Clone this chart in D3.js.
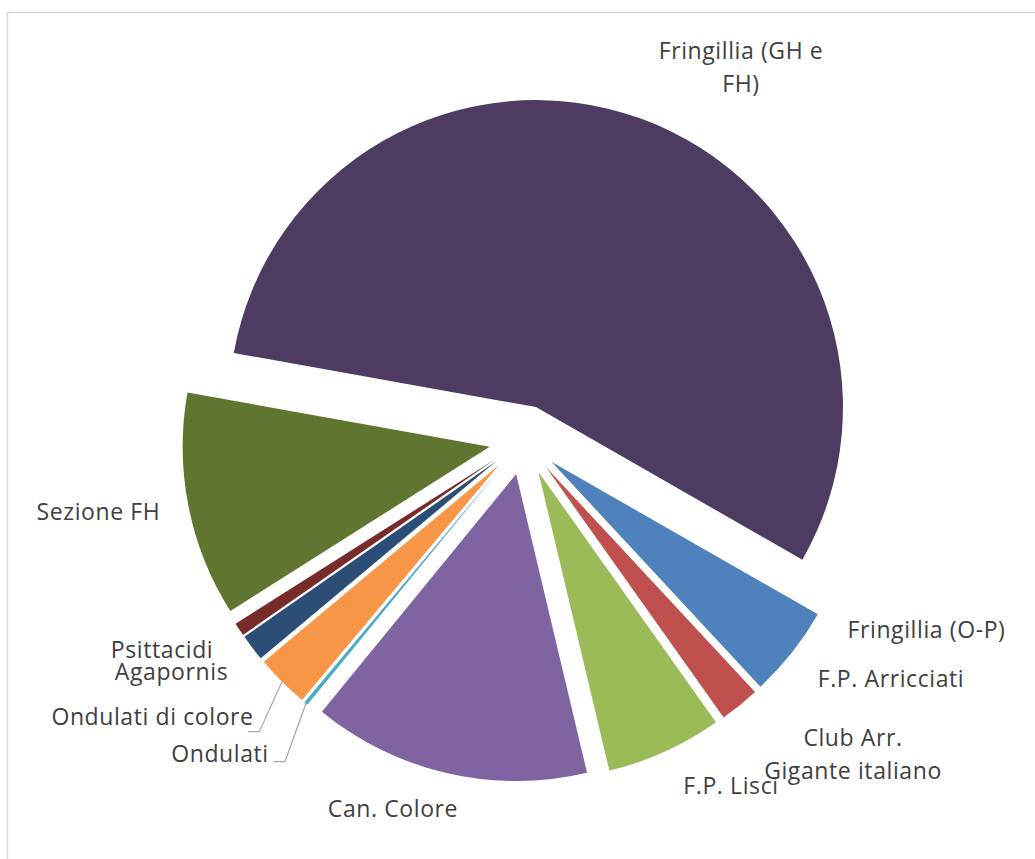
<!DOCTYPE html>
<html>
<head>
<meta charset="utf-8">
<script src="https://cdn.jsdelivr.net/npm/d3@7"></script>
<style>
  html, body { margin: 0; padding: 0; background: #fff; }
  svg { display: block; }
  .lbl { font-family: 'Open Sans', sans-serif; font-size: 23px; fill: #404040; letter-spacing: 0.6px; }
</style>
</head>
<body>
<script>
// categories in drawing order (clockwise from first slice angle)
const categories = [
  'F.P. Arricciati',
  'Club Arr. Gigante italiano',
  'F.P. Lisci',
  'Can. Colore',
  'Ondulati',
  'Ondulati di colore',
  'Agapornis',
  'Psittacidi',
  'Sezione FH',
  'Fringillia (GH e FH)',
  'Fringillia (O-P)',
]
const values = [4.8, 2.1, 6.1, 14.6, 0.2, 2.8, 1.4, 0.7, 11.8, 55.4, 0]
const colors = ['#4f81bd', '#c0504d', '#9bbb59', '#8064a2', '#4bacc6', '#f79646', '#2c4d75', '#772c2a', '#5f7530', '#4d3b62', '#276a7c']

;(function () {
  const width = 1035
  const height = 859
  const cx = 524
  const cy = 440
  const radius = 307
  const explode = 35
  const firstAngle = 119.8

  // label placement: [centre x, baseline of first line]
  const labelPos = {
    'F.P. Arricciati': [891, 687],
    'Club Arr. Gigante italiano': [853, 745.5],
    'F.P. Lisci': [731, 794],
    'Can. Colore': [393, 817],
    'Ondulati': [220, 761.5],
    'Ondulati di colore': [152.5, 725],
    'Agapornis': [171.5, 680],
    'Psittacidi': [162, 657.5],
    'Sezione FH': [98.5, 520],
    'Fringillia (GH e FH)': [741, 59.3],
    'Fringillia (O-P)': [926.5, 637.5],
  }
  const wrapped = {
    'Club Arr. Gigante italiano': ['Club Arr.', 'Gigante italiano'],
    'Fringillia (GH e FH)': ['Fringillia (GH e', 'FH)'],
  }
  // leader lines: elbow and end point
  const leaders = {
    'Ondulati': [[285, 761.7], [273.3, 761.7]],
    'Ondulati di colore': [[259.3, 731.7], [248.3, 731.7]],
  }

  const data = categories.map((name, i) => ({ name, value: values[i], color: colors[i] }))
  const rad = (deg) => (deg * Math.PI) / 180

  const pie = d3
    .pie()
    .sort(null)
    .value((d) => d.value)
    .startAngle(rad(firstAngle))
    .endAngle(rad(firstAngle) + 2 * Math.PI)
  const arc = d3.arc().innerRadius(0).outerRadius(radius)

  const svg = d3
    .select('body')
    .append('svg')
    .attr('width', width)
    .attr('height', height)

  // chart area border
  svg
    .append('rect')
    .attr('x', 7.5)
    .attr('y', 12.5)
    .attr('width', 1200)
    .attr('height', 1000)
    .attr('fill', 'none')
    .attr('stroke', '#d9d9d9')
    .attr('stroke-width', 1.5)

  const arcs = pie(data)
  const shift = (d) => {
    const mid = (d.startAngle + d.endAngle) / 2
    return [explode * Math.sin(mid), -explode * Math.cos(mid)]
  }

  const g = svg.append('g').attr('transform', `translate(${cx},${cy})`)

  g.selectAll('path')
    .data(arcs)
    .enter()
    .append('path')
    .attr('d', arc)
    .attr('fill', (d) => d.data.color)
    .attr('transform', (d) => `translate(${shift(d)})`)

  // leader lines from the middle of the outer arc
  arcs
    .filter((d) => leaders[d.data.name])
    .forEach((d) => {
      const mid = (d.startAngle + d.endAngle) / 2
      const [sx, sy] = shift(d)
      const start = [cx + sx + radius * Math.sin(mid), cy + sy - radius * Math.cos(mid)]
      svg
        .append('path')
        .attr('d', d3.line()([start, ...leaders[d.data.name]]))
        .attr('fill', 'none')
        .attr('stroke', '#a6a6a6')
        .attr('stroke-width', 1.2)
    })

  arcs.forEach((d) => {
    const name = d.data.name
    const [x, y] = labelPos[name]
    const lines = wrapped[name] || [name]
    const t = svg
      .append('text')
      .attr('class', 'lbl')
      .attr('text-anchor', 'middle')
      .attr('x', x)
      .attr('y', y)
    lines.forEach((line, i) => {
      t.append('tspan')
        .attr('x', x)
        .attr('dy', i === 0 ? 0 : 33)
        .text(line)
    })
  })
})()
</script>
</body>
</html>
